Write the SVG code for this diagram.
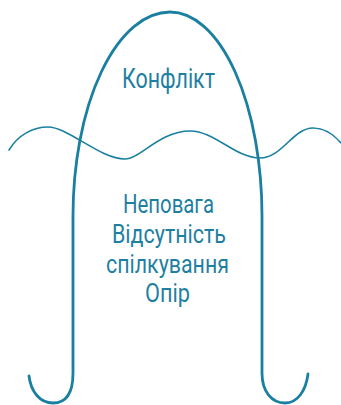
<svg xmlns="http://www.w3.org/2000/svg" width="341" height="405" viewBox="0 0 341 405">
<style>
.ln{fill:none;stroke:#1a7fa1;stroke-linecap:round;stroke-linejoin:round}
.t{font-family:Roboto,"Liberation Sans",sans-serif;fill:#1f7fa3;text-anchor:middle}
</style>
<rect width="341" height="405" fill="#ffffff"/>
<g id="connectors">
<path class="ln" stroke-width="2.8" d="M29,376 C31,392 40,403 53,403 C67,403 73,392 73,373 L73,216 A97,204 0 0 1 170,12 A92,204 0 0 1 262,216 L262,373 C262,392 272,403 285,403 C298,403 306,390 308,374"/>
<path class="ln" stroke-width="1.6" d="M9,150 C18,135 33,127 48,127 C68,127 100,159 125,159 C140,159 160,131 190,131 C215,131 235,158 260,158 C282,158 293,128 313,128 C325,128 335,136 341,143"/>
</g>
<g id="conflict">
<text class="t" x="168.5" y="87.5" font-size="27" textLength="93" lengthAdjust="spacingAndGlyphs">Конфлікт</text>
</g>
<g id="causes">
<text class="t" x="168.5" y="212.5" font-size="25" textLength="91" lengthAdjust="spacingAndGlyphs">Неповага</text>
<text class="t" x="169" y="242.5" font-size="25" textLength="114" lengthAdjust="spacingAndGlyphs">Відсутність</text>
<text class="t" x="167.5" y="272.5" font-size="25" textLength="123" lengthAdjust="spacingAndGlyphs">спілкування</text>
<text class="t" x="167.5" y="301.5" font-size="25" textLength="45" lengthAdjust="spacingAndGlyphs">Опір</text>
</g>
</svg>
